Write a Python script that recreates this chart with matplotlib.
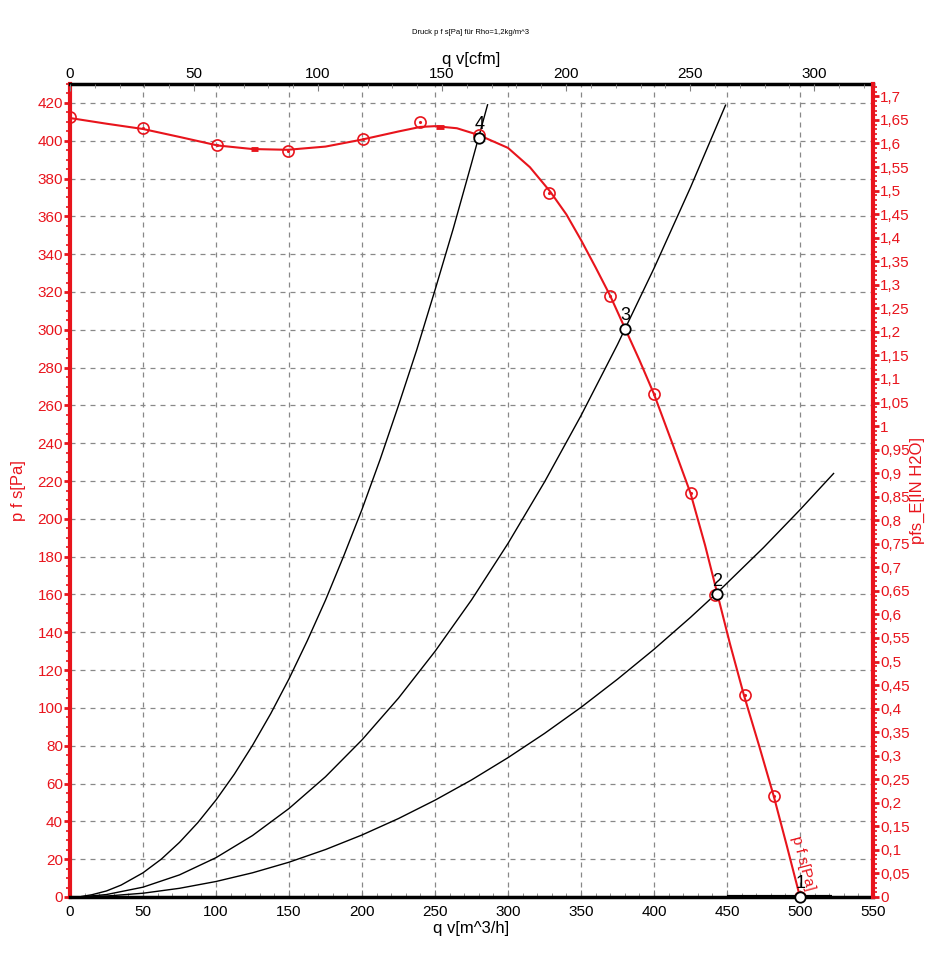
import matplotlib
matplotlib.use("Agg")
import matplotlib.pyplot as plt
from matplotlib.ticker import MultipleLocator, FuncFormatter

plt.rcParams['font.family'] = ['Liberation Sans', 'DejaVu Sans']

# Kennlinie p f s [Pa] ueber q v [m^3/h]
kl_q = [0, 25, 50, 75, 101, 125, 149, 175, 200, 225, 240, 250, 265, 280, 300, 315, 329,
        340, 350, 360, 370, 380, 390, 400, 412.5, 425, 435, 443.5, 452, 461.5, 472, 482, 491, 500]
kl_p = [412, 409, 406.2, 402, 397.5, 395.6, 395.2, 396.9, 400.6, 404.9, 407.3, 407.7, 406.6, 403, 396.2, 386, 373,
        361, 347.5, 333, 318, 301, 284, 266, 240, 213.6, 186, 160, 134, 107, 80, 53.4, 27, 0]
# Messpunkte (rote Kreise)
mp_q = [0, 50, 101, 149, 201, 240, 280, 328, 370, 400, 425, 442, 462, 482, 500]
mp_p = [412.5, 406.5, 397.5, 394.5, 401, 409.8, 403, 372.6, 317.8, 266, 213.6, 159.5, 107, 53.4, 0]

# Anlagenkennlinien
a4_q = [8, 15, 25, 35, 50, 62.5, 75, 87.5, 100, 112.5, 125, 137.5, 150, 162.5, 175, 187.5,
        200, 212.5, 225, 237.5, 250, 262.5, 275, 286]
a4_p = [0.3, 1.2, 3.2, 6.3, 12.8, 20, 28.9, 39.3, 51.3, 64.9, 80.2, 97, 115.4, 135.5, 157, 180.4,
        205, 231.6, 260, 289.4, 321, 353.5, 388, 419]
a3_q = [8, 25, 50, 75, 100, 125, 150, 175, 200, 225, 250, 275, 300, 325, 350, 375, 400, 425, 449]
a3_p = [0.1, 1.3, 5.2, 11.7, 20.8, 32.5, 46.8, 63.6, 83.1, 105.2, 129.9, 157.1, 187, 219.5, 254.6,
        292.2, 332.5, 375.3, 418.8]
a2_q = [8, 25, 50, 75, 100, 125, 150, 175, 200, 225, 250, 275, 300, 325, 350, 375, 400, 425, 442,
        475, 500, 523]
a2_p = [0.05, 0.5, 2.0, 4.6, 8.2, 12.8, 18.4, 25.1, 32.8, 41.5, 51.2, 61.9, 73.7, 86.5, 100.3, 115.2,
        131, 147.9, 160, 184.8, 204.8, 224]
a1_q = [450, 522]
a1_p = [0, 0]

# Betriebspunkte
bp_q = [500, 443, 380, 280]
bp_p = [0, 160, 300.5, 401.5]
bp_lbl = ['1', '2', '3', '4']

RED = '#e8141c'

fig = plt.figure(figsize=(9.43, 9.76), dpi=100)
ax = fig.add_axes([70/943, 1-897/976, 803/943, 813/976])

ax.set_xlim(0, 550)
ax.set_ylim(0, 430)

# Gitter
ax.grid(True, which='major', color='#888888', linestyle=(0, (4, 4)), linewidth=0.9)

for q, p in [(a4_q, a4_p), (a3_q, a3_p), (a2_q, a2_p)]:
    ax.plot(q, p, color='black', linewidth=1.0)
ax.plot(a1_q, a1_p, color='black', linewidth=3, solid_capstyle='butt', zorder=4)

ax.plot(kl_q, kl_p, color=RED, linewidth=1.5)
ax.plot([124, 129], [395.6, 395.6], color=RED, linewidth=3.5, solid_capstyle='butt')
ax.plot([251, 256.5], [407.5, 407.5], color=RED, linewidth=3.5, solid_capstyle='butt')
ax.plot(mp_q, mp_p, linestyle='none', marker='o', markersize=8, markerfacecolor='none',
        markeredgecolor=RED, markeredgewidth=1.2)
ax.plot(mp_q, mp_p, linestyle='none', marker='.', markersize=2.5, color=RED)

ax.plot(bp_q, bp_p, linestyle='none', marker='o', markersize=7.5, markerfacecolor='white',
        markeredgecolor='black', markeredgewidth=1.3, zorder=6, clip_on=False)
for q, p, t in zip(bp_q, bp_p, bp_lbl):
    ax.text(q + 0.5, p + 2.5, t, fontsize=13, ha='center', va='bottom', zorder=7)

ax.text(502, 18, 'p f s[Pa]', color=RED, fontsize=11, rotation=-75,
        ha='center', va='center', rotation_mode='anchor')

# Achsen
ax.xaxis.set_major_locator(MultipleLocator(50))
ax.xaxis.set_minor_locator(MultipleLocator(10))
ax.yaxis.set_major_locator(MultipleLocator(20))
ax.yaxis.set_minor_locator(MultipleLocator(5))
ax.tick_params(axis='x', which='major', direction='in', length=5, color='#808080',
               labelsize=11, pad=6)
ax.tick_params(axis='x', which='minor', direction='in', length=3, color='#808080')
ax.tick_params(axis='y', which='major', direction='out', length=4, width=2, color=RED,
               labelcolor=RED, labelsize=11, pad=1)
ax.tick_params(axis='y', which='minor', direction='out', length=3, width=1.2, color=RED)
ax.spines['left'].set_color(RED)
ax.spines['left'].set_linewidth(3)
ax.spines['right'].set_visible(False)
ax.spines['bottom'].set_linewidth(2.5)
ax.spines['top'].set_linewidth(2.5)
ax.set_xlabel('q v[m^3/h]', fontsize=12, labelpad=1)
ax.set_ylabel('p f s[Pa]', fontsize=12, color=RED, labelpad=8)

# rechte Achse in H2O
ax2 = ax.twinx()
ax2.set_ylim(0, 430/249.089)
ax2.yaxis.set_major_locator(MultipleLocator(0.05))
ax2.yaxis.set_minor_locator(MultipleLocator(0.01))
ax2.yaxis.set_major_formatter(FuncFormatter(lambda v, pos: ('%.2f' % v).rstrip('0').rstrip('.').replace('.', ',')))
ax2.tick_params(axis='y', which='major', direction='out', length=4, width=2, color=RED,
                labelcolor=RED, labelsize=11, pad=1)
ax2.tick_params(axis='y', which='minor', direction='out', length=3, width=1.2, color=RED)
ax2.spines['right'].set_color(RED)
ax2.spines['right'].set_linewidth(3)
ax2.spines['left'].set_visible(False)
ax2.spines['top'].set_visible(False)
ax2.spines['bottom'].set_visible(False)
ax2.set_ylabel('pfs_E[IN H2O]', fontsize=12, color=RED, labelpad=0)

# obere Achse cfm
ax3 = ax.twiny()
ax3.set_xlim(0, 550/1.699)
ax3.xaxis.set_major_locator(MultipleLocator(50))
ax3.xaxis.set_minor_locator(MultipleLocator(10))
ax3.tick_params(axis='x', which='major', direction='in', length=5, color='#808080',
                labelsize=11, pad=2)
ax3.tick_params(axis='x', which='minor', direction='in', length=3, color='#808080')
for s in ['left', 'right', 'bottom', 'top']:
    ax3.spines[s].set_visible(False)
ax3.set_xlabel('q v[cfm]', fontsize=12, labelpad=2)

fig.text(470/943, 1-33/976, 'Druck p f s[Pa] für Rho=1,2kg/m^3', fontsize=5.5, ha='center', va='center')

fig.savefig('out.png', dpi=100)
